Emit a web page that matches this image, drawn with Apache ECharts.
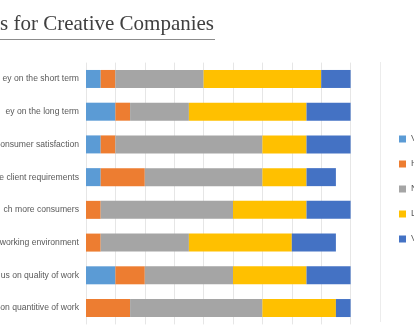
<!DOCTYPE html>
<html>
<head>
<meta charset="utf-8">
<script src="https://cdn.jsdelivr.net/npm/echarts@6/dist/echarts.min.js"></script>
<style>
html,body{margin:0;padding:0;background:#fff;}
#chart{width:414px;height:335px;}
</style>
</head>
<body>
<div id="chart"></div>
<script>
// Data
const titleText = 's for Creative Companies';
const categories = [
  'ey on the short term',
  'ey on the long term',
  'onsumer satisfaction',
  'e client requirements',
  'ch more consumers',
  'working environment',
  'us on quality of work',
  'on quantitive of work'
];
const seriesNames = ['Very unlikely', 'Hardly likely', 'Neutral', 'Likely', 'Very likely'];
const seriesColors = ['#5b9bd5', '#ed7d31', '#a5a5a5', '#ffc000', '#4472c4'];
const s1 = [1, 2, 1, 1, 0, 0, 2, 0];
const s2 = [1, 1, 1, 3, 1, 1, 2, 3];
const s3 = [6, 4, 10, 8, 9, 6, 6, 9];
const s4 = [8, 8, 3, 3, 5, 7, 5, 5];
const s5 = [2, 3, 3, 2, 3, 3, 3, 1];
const seriesData = [s1, s2, s3, s4, s5];
const axisMax = 18;
const axisInterval = 2;

const chart = echarts.init(document.getElementById('chart'), null, {renderer: 'canvas'});
chart.setOption({
  animation: false,
  backgroundColor: '#ffffff',
  graphic: [
    {
      type: 'text', left: 0, top: 14,
      style: {text: titleText, fill: '#404040', font: '21px "Liberation Serif", serif'}
    },
    {
      type: 'line', shape: {x1: 0, y1: 39.5, x2: 215, y2: 39.5},
      style: {stroke: '#8c8c8c', lineWidth: 1}
    },
    {
      type: 'line', shape: {x1: 380.5, y1: 62, x2: 380.5, y2: 322},
      style: {stroke: '#ececec', lineWidth: 1}
    }
  ],
  legend: {
    orient: 'vertical',
    left: 399, top: 134.5, padding: 0,
    itemWidth: 7, itemHeight: 7, itemGap: 16,
    icon: 'rect',
    textStyle: {color: '#595959', fontSize: 9, lineHeight: 9, fontFamily: '"Liberation Sans", Arial, sans-serif'},
    data: seriesNames
  },
  grid: {left: 86, right: 63.4, top: 62.6, bottom: 10.6, containLabel: false, outerBoundsMode: 'none'},
  xAxis: {
    type: 'value', min: 0, max: axisMax, interval: axisInterval,
    axisLabel: {show: false}, axisLine: {show: false}, axisTick: {show: false},
    splitLine: {show: true, lineStyle: {color: '#e6e6e6', width: 1}}
  },
  yAxis: {
    type: 'category', data: categories, inverse: true,
    axisLine: {show: false}, axisTick: {show: false},
    axisLabel: {color: '#595959', fontSize: 8.6, margin: 7, fontFamily: '"Liberation Sans", Arial, sans-serif'}
  },
  series: seriesNames.map((name, i) => ({
    name: name,
    type: 'bar',
    stack: 'total',
    barCategoryGap: '45%',
    itemStyle: {color: seriesColors[i]},
    data: seriesData[i]
  }))
});
</script>
</body>
</html>
